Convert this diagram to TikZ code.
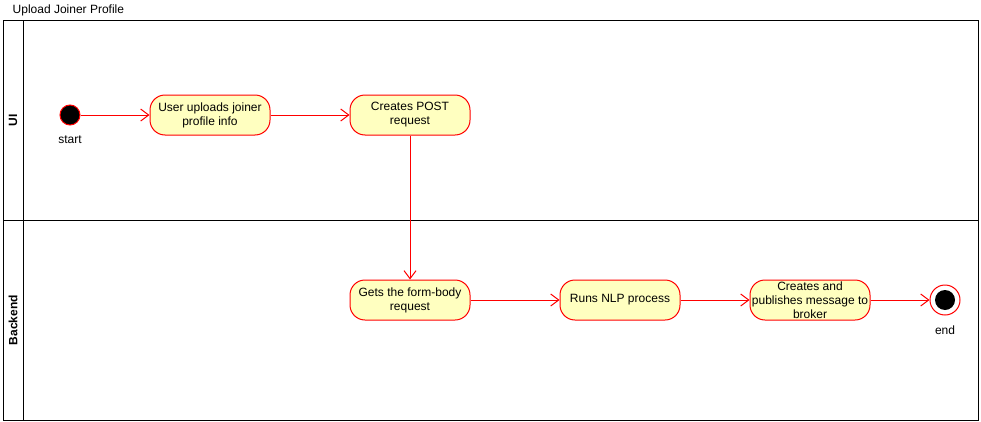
\documentclass[tikz,border=0pt]{standalone}
\usepackage{fontspec}
\setmainfont{Liberation Sans}
\usetikzlibrary{arrows.meta}
\definecolor{actfill}{HTML}{FFFFC0}
\definecolor{actline}{HTML}{FF0000}
\begin{document}
\begin{tikzpicture}[x=0.75pt,y=-0.75pt,
  txt/.style={font=\fontsize{9}{10.5}\selectfont},
  act/.style={txt,draw=actline,fill=actfill,rounded corners=11.25pt,minimum width=90pt,minimum height=30pt,align=center,inner sep=1pt,line width=0.75pt},
  flow/.style={draw=actline,line width=0.75pt,-{Straight Barb[length=6pt,width=9pt,line width=0.75pt]}},
  lane/.style={draw=black,line width=0.75pt},
  lanelabel/.style={txt,font=\fontsize{9}{10.5}\selectfont\bfseries,rotate=90}]
\useasboundingbox (0,0) rectangle (981,421);
% title
\node[txt,anchor=west] (title) at (8,10) {Upload Joiner Profile};
% pool frame
\draw[lane] (3,20) rectangle (978,420);
\draw[lane] (23,20) -- (23,420);
\draw[lane] (3,220) -- (978,220);
\node[lanelabel] (ui) at (13,120) {UI};
\node[lanelabel] (be) at (13,320) {Backend};
% start
\node[circle,draw=actline,fill=black,minimum size=15pt,inner sep=0pt,line width=0.75pt] (start) at (70,115) {};
\node[txt] (startlbl) at (70,140) {start};
% activities
\node[act] (a1) at (210,115) {User uploads joiner\\profile info};
\node[act] (a2) at (410,115) {Creates POST\\request};
\node[act] (a3) at (410,300) {Gets the form-body\\request};
\node[act] (a4) at (620,300) {Runs NLP process};
\node[act] (a5) at (810,300) {Creates and\\publishes message to\\broker};
% end
\node[circle,draw=actline,fill=white,minimum size=22.5pt,inner sep=0pt,line width=0.75pt] (end) at (945,300) {};
\node[circle,fill=black,minimum size=15pt,inner sep=0pt] (endin) at (945,300) {};
\node[txt] (endlbl) at (945,330) {end};
% flows
\draw[flow] (start) -- (a1);
\draw[flow] (a1) -- (a2);
\draw[flow] (a2) -- (a3);
\draw[flow] (a3) -- (a4);
\draw[flow] (a4) -- (a5);
\draw[flow] (a5) -- (end);
\end{tikzpicture}
\end{document}
